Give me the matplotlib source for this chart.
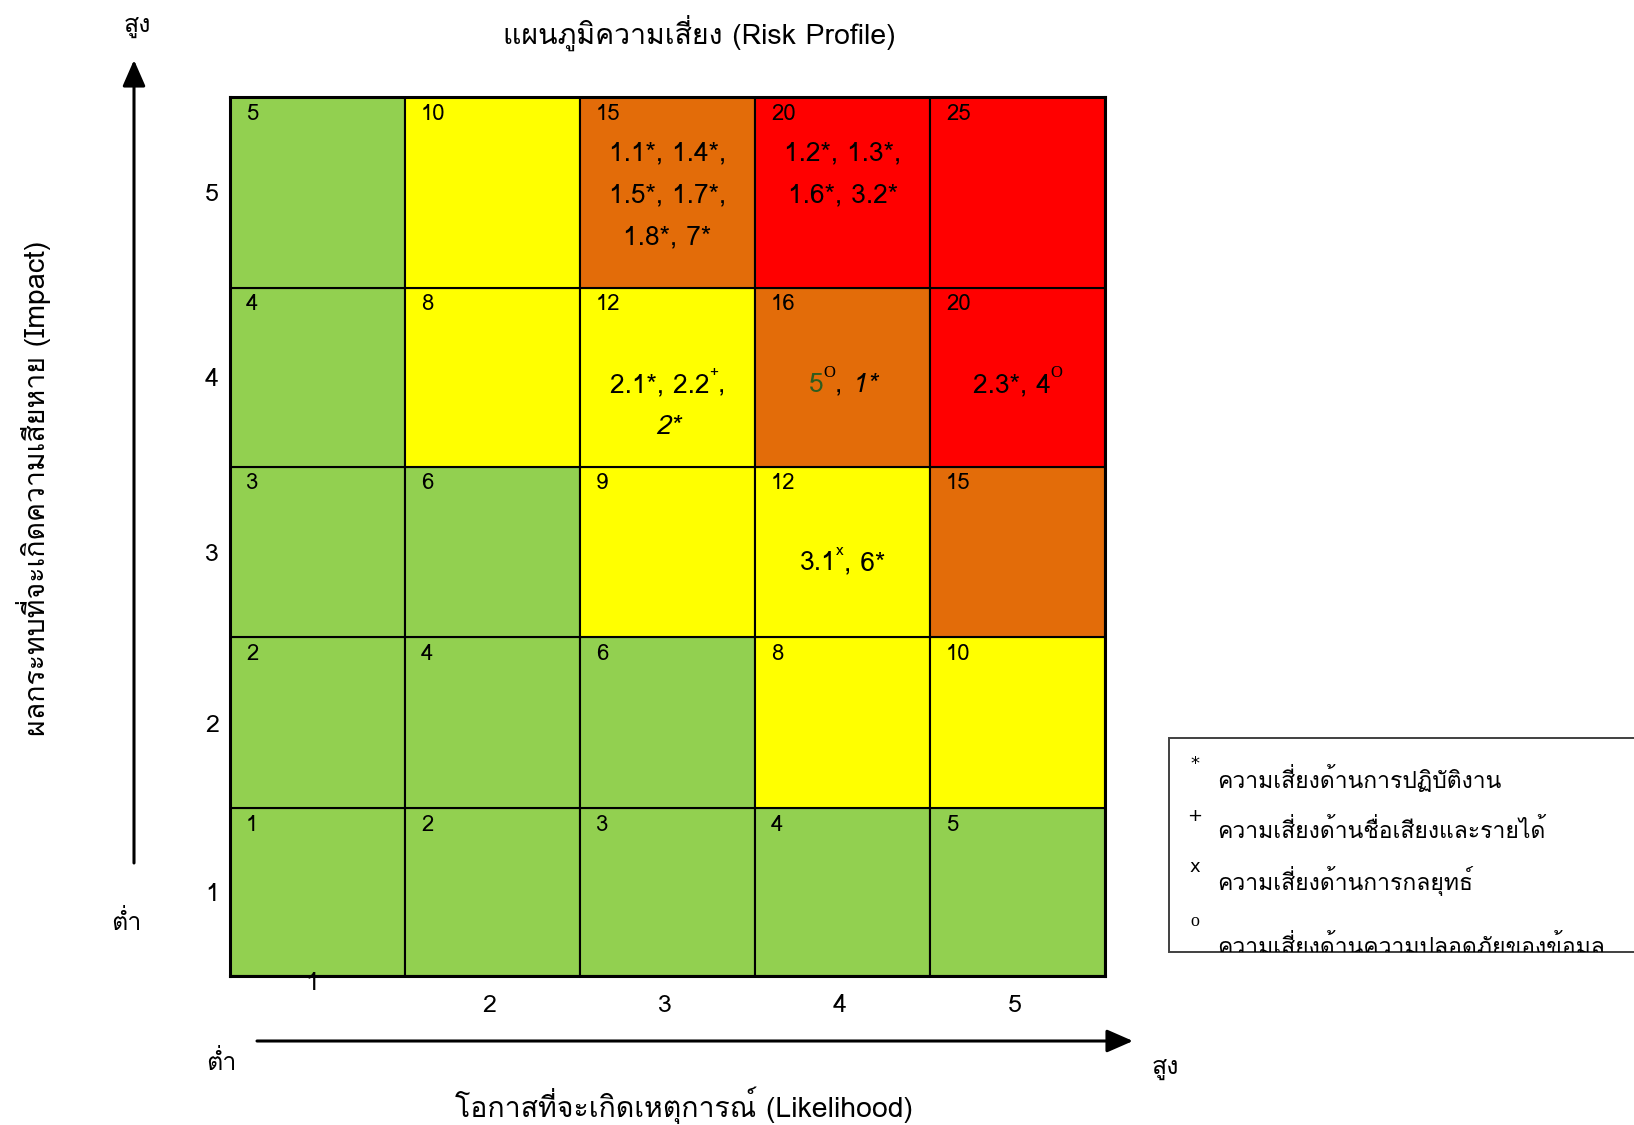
import numpy as np
import matplotlib
matplotlib.use('Agg')
import matplotlib.pyplot as plt
from matplotlib.patches import Rectangle, FancyArrowPatch
from matplotlib.transforms import IdentityTransform

# ---- data -------------------------------------------------------------
likelihood = [1, 2, 3, 4, 5]
impact = [1, 2, 3, 4, 5]
# zone colour per cell, rows = impact 1..5, cols = likelihood 1..5
zones = [
    ['G', 'G', 'G', 'G', 'G'],
    ['G', 'G', 'G', 'Y', 'Y'],
    ['G', 'G', 'Y', 'Y', 'O'],
    ['G', 'Y', 'Y', 'O', 'R'],
    ['G', 'Y', 'O', 'R', 'R'],
]
zone_colors = {'G': '#92D050', 'Y': '#FFFF00', 'O': '#E36C09', 'R': '#FF0000'}

# risk items in a cell (likelihood, impact): lines of (text, style) pieces
cell_items = {
    (3, 5): [[('1.1*, 1.4*,', '')], [('1.5*, 1.7*,', '')], [('1.8*, 7*', '')]],
    (4, 5): [[('1.2*, 1.3*,', '')], [('1.6*, 3.2*', '')]],
    (3, 4): [[('2.1*, 2.2', ''), ('+', 'sup'), (',', '')], [('2*', 'it')]],
    (4, 4): [[('5', 'green'), ('O', 'supo'), (',', ''), (' 1*', 'it')]],
    (5, 4): [[('2.3*, 4', ''), ('O', 'supo')]],
    (4, 3): [[('3.1', ''), ('x', 'sup'), (', 6*', '')]],
}

legend_marks = ['*', '+', 'x', 'o']
legend_labels = ['ความเสี่ยงด้านการปฏิบัติงาน',
                 'ความเสี่ยงด้านชื่อเสียงและรายได้',
                 'ความเสี่ยงด้านการกลยุทธ์',
                 'ความเสี่ยงด้านความปลอดภัยของข้อมูล']

title = 'แผนภูมิความเสี่ยง (Risk Profile)'
xlabel = 'โอกาสที่จะเกิดเหตุการณ์ (Likelihood)'
ylabel = 'ผลกระทบที่จะเกิดความเสียหาย (Impact)'
high_txt = 'สูง'
low_txt = 'ต่ำ'

# ---- fonts ------------------------------------------------------------
FAM = ['Loma', 'Noto Sans Thai', 'DejaVu Sans']
plt.rcParams['font.family'] = FAM

# ---- layout -----------------------------------------------------------
W, H = 1634, 1125
fig = plt.figure(figsize=(W / 100, H / 100), dpi=100)

def fx(x):
    return x / W

def fy(y):
    return 1 - y / H

row_h = [168, 171, 171, 179, 191]           # pixel heights of impact rows 1..5
y_edges = np.concatenate([[0], np.cumsum(row_h)])

ax = fig.add_axes([fx(230), fy(976), fx(1105) - fx(230), fy(97) - fy(976)])
ax.set_xlim(0, len(likelihood))
ax.set_ylim(0, y_edges[-1])

for i, imp in enumerate(impact):
    for j, lik in enumerate(likelihood):
        ax.add_patch(Rectangle((j, y_edges[i]), 1, row_h[i],
                               facecolor=zone_colors[zones[i][j]],
                               edgecolor='black', lw=1.5))
        ax.annotate(str(lik * imp), xy=(j, y_edges[i + 1]), xytext=(16, -17),
                    textcoords='offset pixels', ha='left', va='center',
                    fontsize=16)

for sp in ax.spines.values():
    sp.set_linewidth(2.2)
ax.set_xticks([])
ax.set_yticks((y_edges[:-1] + y_edges[1:]) / 2)
ax.set_yticklabels([str(v) for v in impact], fontsize=18)
ax.tick_params(axis='y', length=0, pad=8)

# x numbers: the first one sits right under the grid
for j, lik in enumerate(likelihood):
    off = (-5, -7) if j == 0 else (-3, -30)
    ax.annotate(str(lik), xy=(j + 0.5, 0), xytext=off, textcoords='offset pixels',
                ha='center', va='center', fontsize=18)

# ---- rich text in cells -------------------------------------------------
renderer = fig.canvas.get_renderer()
first_drop = {5: 54, 4: 95, 3: 94}
line_gap = 42
main_fs = 19
sup_fs = 11

def piece_props(kind):
    if kind == 'sup':
        return dict(fontsize=sup_fs)
    if kind == 'supo':
        return dict(fontsize=sup_fs + 1, family=['Liberation Serif'])
    if kind == 'it':
        return dict(fontsize=main_fs, style='italic')
    if kind == 'green':
        return dict(fontsize=main_fs, color='#2E5C1E')
    return dict(fontsize=main_fs)

def draw_line(xc, yc, pieces):
    arts = []
    for s, kind in pieces:
        t = ax.text(0, 0, s, transform=IdentityTransform(), ha='left',
                    va='baseline', **piece_props(kind))
        arts.append((t, kind))
    widths = [t.get_window_extent(renderer).width for t, _ in arts]
    px, py = ax.transData.transform((xc, yc))
    base = py - 0.36 * main_fs * 100 / 72
    cur = px - sum(widths) / 2
    for (t, kind), w in zip(arts, widths):
        lift = 15 if kind.startswith('sup') else 0
        t.set_position((cur, base + lift))
        cur += w

for (lik, imp), lines in cell_items.items():
    y0 = y_edges[imp] - first_drop[imp]
    for k, pieces in enumerate(lines):
        draw_line(lik - 0.5, y0 - k * line_gap, pieces)

# ---- titles and arrows --------------------------------------------------
fig.text(fx(699), fy(33), title, ha='center', va='center', fontsize=20.5)
fig.text(fx(684), fy(1105), xlabel, ha='center', va='center', fontsize=20.5)
fig.text(fx(34), fy(488), ylabel, ha='center', va='center', fontsize=20.5, rotation=90)
for (x, y), s in [((137, 26), high_txt), ((126, 922), low_txt),
                  ((221, 1063), low_txt), ((1165, 1068), high_txt)]:
    fig.text(fx(x), fy(y), s, ha='center', va='center', fontsize=18)

for a, b in [((134, 863), (134, 60)), ((257, 1041), (1133, 1041))]:
    fig.add_artist(FancyArrowPatch((fx(a[0]), fy(a[1])), (fx(b[0]), fy(b[1])),
                                   transform=fig.transFigure,
                                   arrowstyle='-|>,head_length=0.8,head_width=0.35',
                                   mutation_scale=20, lw=2.2, color='black',
                                   shrinkA=0, shrinkB=0))

# ---- legend box (last line is cut by the frame, as in the source) -------
box = Rectangle((fx(1169), fy(952)), fx(1700) - fx(1169), fy(738) - fy(952),
                transform=fig.transFigure, facecolor='white',
                edgecolor='#404040', lw=1.4)
fig.add_artist(box)
mark_y = [764, 816, 867, 922]
text_y = [779, 831, 881, 945]
for k, (m, lab) in enumerate(zip(legend_marks, legend_labels)):
    fam = ['Liberation Serif'] if m == 'o' else ['DejaVu Sans']
    fig.text(fx(1195), fy(mark_y[k]), m, ha='center', va='center', fontsize=13,
             family=fam)
    t = fig.text(fx(1217), fy(text_y[k]), lab, ha='left', va='center', fontsize=16.5)
    t.set_clip_path(box)

fig.savefig('out.png', dpi=100)
